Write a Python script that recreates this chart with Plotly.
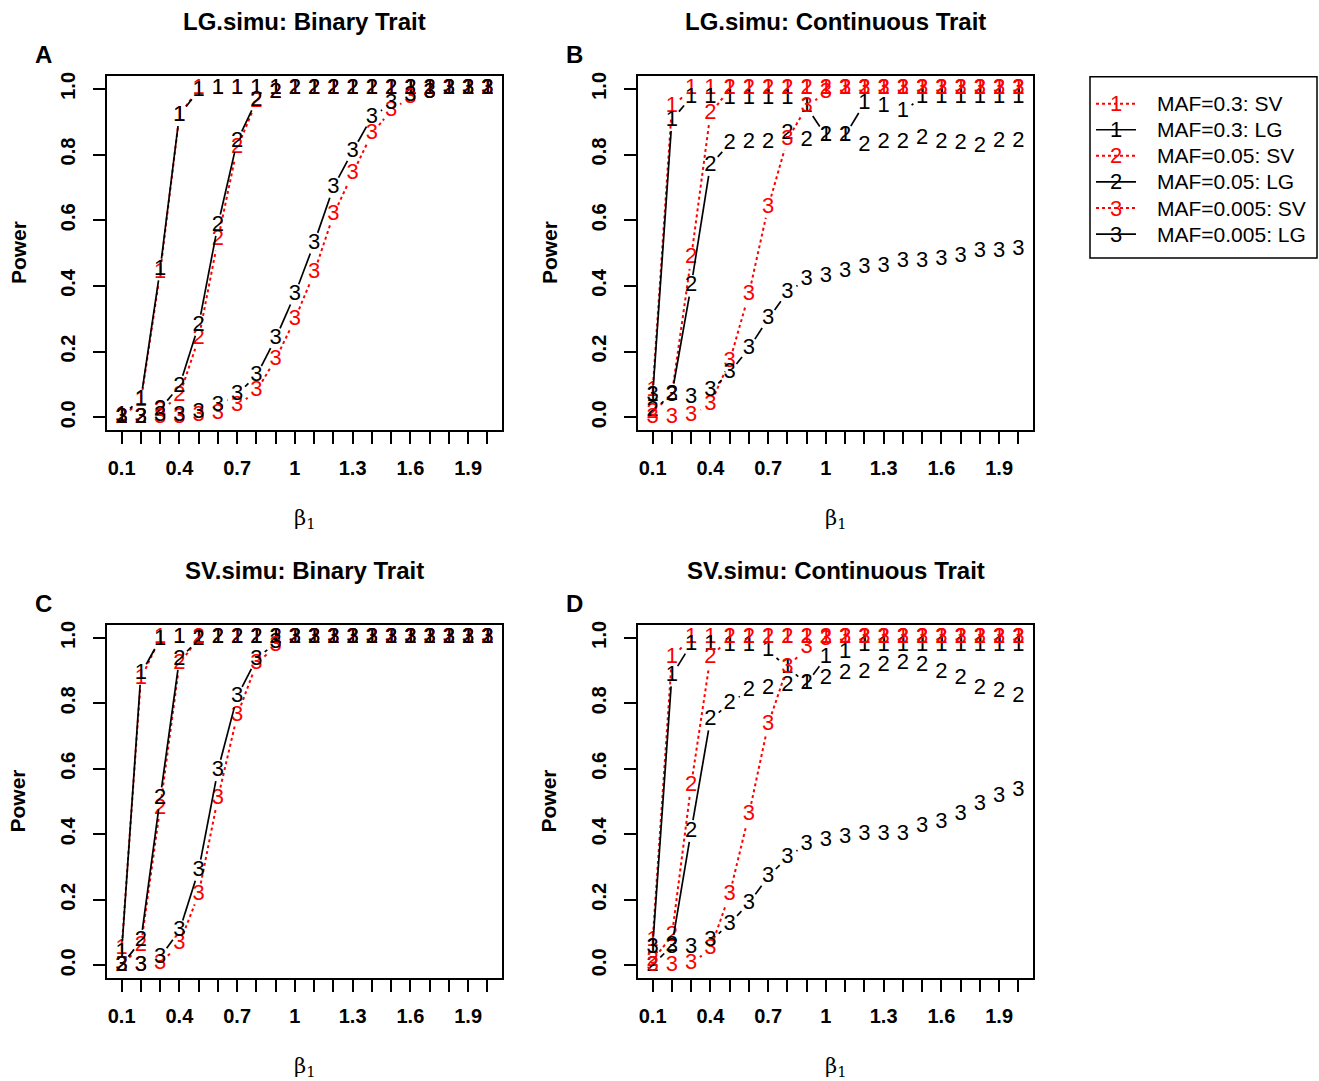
import math
import plotly.graph_objects as go

# ---------------- data ----------------
beta = [0.1, 0.2, 0.3, 0.4, 0.5, 0.6, 0.7, 0.8, 0.9, 1.0,
        1.1, 1.2, 1.3, 1.4, 1.5, 1.6, 1.7, 1.8, 1.9, 2.0]

# Panel A: LG.simu, binary trait
A_SV1 = [0.0, 0.05, 0.44, 0.92, 1.0, 1, 1, 1, 1, 1, 1, 1, 1, 1, 1, 1, 1, 1, 1, 1]
A_LG1 = [0.005, 0.055, 0.45, 0.92, 0.995, 1, 1, 1, 1, 1, 1, 1, 1, 1, 1, 1, 1, 1, 1, 1]
A_SV2 = [0.0, 0.0, 0.02, 0.065, 0.24, 0.54, 0.82, 0.96, 0.99, 1, 1, 1, 1, 1, 1, 1, 1, 1, 1, 1]
A_LG2 = [0.0, 0.0, 0.025, 0.095, 0.28, 0.585, 0.84, 0.965, 0.99, 1, 1, 1, 1, 1, 1, 1, 1, 1, 1, 1]
A_SV3 = [0.0, 0.0, 0.0, 0.0, 0.005, 0.01, 0.035, 0.08, 0.177, 0.298, 0.44, 0.616, 0.742, 0.864,
         0.934, 0.975, 0.99, 1, 1, 1]
A_LG3 = [0.0, 0.0, 0.005, 0.005, 0.015, 0.035, 0.07, 0.126, 0.24, 0.374, 0.53, 0.70, 0.81, 0.914,
         0.955, 0.98, 0.99, 1, 1, 1]

# Panel B: LG.simu, continuous trait
B_SV1 = [0.08, 0.945, 1, 1, 1, 1, 1, 1, 1, 1, 1, 1, 1, 1, 1, 1, 1, 1, 1, 1]
B_LG1 = [0.065, 0.905, 0.975, 0.975, 0.97, 0.97, 0.97, 0.97, 0.945, 0.858, 0.858, 0.955, 0.945,
         0.93, 0.975, 0.975, 0.975, 0.975, 0.975, 0.975]
B_SV2 = [0.015, 0.07, 0.485, 0.924, 1, 1, 1, 1, 1, 1, 1, 1, 1, 1, 1, 1, 1, 1, 1, 1]
B_LG2 = [0.02, 0.07, 0.40, 0.768, 0.833, 0.838, 0.838, 0.863, 0.843, 0.858, 0.858, 0.828, 0.838,
         0.838, 0.848, 0.838, 0.833, 0.825, 0.841, 0.841]
B_SV3 = [0.0, 0.0, 0.005, 0.04, 0.17, 0.375, 0.64, 0.845, 0.945, 0.99, 1, 1, 1, 1, 1, 1, 1, 1, 1, 1]
B_LG3 = [0.065, 0.065, 0.06, 0.08, 0.136, 0.21, 0.30, 0.38, 0.42, 0.43, 0.445, 0.455, 0.46, 0.475,
         0.475, 0.48, 0.49, 0.505, 0.505, 0.51]

# Panel C: SV.simu, binary trait
C_SV1 = [0.05, 0.875, 1, 1, 1, 1, 1, 1, 1, 1, 1, 1, 1, 1, 1, 1, 1, 1, 1, 1]
C_LG1 = [0.04, 0.89, 0.995, 1, 1, 1, 1, 1, 1, 1, 1, 1, 1, 1, 1, 1, 1, 1, 1, 1]
C_SV2 = [0.0, 0.06, 0.48, 0.92, 1, 1, 1, 1, 1, 1, 1, 1, 1, 1, 1, 1, 1, 1, 1, 1]
C_LG2 = [0.0, 0.075, 0.51, 0.935, 0.995, 1, 1, 1, 1, 1, 1, 1, 1, 1, 1, 1, 1, 1, 1, 1]
C_SV3 = [0.0, 0.0, 0.005, 0.065, 0.217, 0.51, 0.762, 0.92, 0.975, 1, 1, 1, 1, 1, 1, 1, 1, 1, 1, 1]
C_LG3 = [0.0, 0.0, 0.025, 0.105, 0.29, 0.595, 0.82, 0.935, 0.985, 1, 1, 1, 1, 1, 1, 1, 1, 1, 1, 1]

# Panel D: SV.simu, continuous trait
D_SV1 = [0.075, 0.94, 1, 1, 1, 1, 1, 1, 1, 1, 1, 1, 1, 1, 1, 1, 1, 1, 1, 1]
D_LG1 = [0.055, 0.885, 0.98, 0.98, 0.975, 0.975, 0.96, 0.91, 0.86, 0.94, 0.955, 0.975, 0.975,
         0.975, 0.975, 0.975, 0.975, 0.975, 0.975, 0.975]
D_SV2 = [0.015, 0.09, 0.55, 0.94, 1, 1, 1, 1, 1, 1, 1, 1, 1, 1, 1, 1, 1, 1, 1, 1]
D_LG2 = [0.0, 0.06, 0.41, 0.75, 0.80, 0.84, 0.845, 0.855, 0.86, 0.875, 0.89, 0.895, 0.915, 0.92,
         0.915, 0.895, 0.875, 0.845, 0.835, 0.82]
D_SV3 = [0.0, 0.0, 0.005, 0.05, 0.217, 0.46, 0.735, 0.91, 0.97, 0.995, 1, 1, 1, 1, 1, 1, 1, 1, 1, 1]
D_LG3 = [0.055, 0.055, 0.055, 0.075, 0.126, 0.19, 0.27, 0.33, 0.37, 0.38, 0.39, 0.40, 0.40, 0.40,
         0.425, 0.435, 0.46, 0.49, 0.515, 0.535]

panel_titles = ["LG.simu: Binary Trait", "LG.simu: Continuous Trait",
                "SV.simu: Binary Trait", "SV.simu: Continuous Trait"]
panel_letters = ["A", "B", "C", "D"]
series_names = ["MAF=0.3: SV", "MAF=0.3: LG", "MAF=0.05: SV",
                "MAF=0.05: LG", "MAF=0.005: SV", "MAF=0.005: LG"]
series_symbols = ["1", "1", "2", "2", "3", "3"]
x_label_vals = [0.1, 0.4, 0.7, 1.0, 1.3, 1.6, 1.9]
x_label_text = ["0.1", "0.4", "0.7", "1", "1.3", "1.6", "1.9"]
y_tick_vals = [0.0, 0.2, 0.4, 0.6, 0.8, 1.0]
y_tick_text = ["0.0", "0.2", "0.4", "0.6", "0.8", "1.0"]

panels = [
    [A_SV1, A_LG1, A_SV2, A_LG2, A_SV3, A_LG3],
    [B_SV1, B_LG1, B_SV2, B_LG2, B_SV3, B_LG3],
    [C_SV1, C_LG1, C_SV2, C_LG2, C_SV3, C_LG3],
    [D_SV1, D_LG1, D_SV2, D_LG2, D_SV3, D_LG3],
]

# ---------------- layout geometry ----------------
W, H = 1319, 1081
FONT = "Liberation Sans, Arial, sans-serif"
RED, BLACK = "#ff0000", "#000000"
series_colors = [RED, BLACK, RED, BLACK, RED, BLACK]
series_dash = ["dot", "solid", "dot", "solid", "dot", "solid"]
series_width = [2, 1.7, 2, 1.7, 2, 1.7]
SYM_SIZE = 22

boxes = [  # left, right, top, bottom in pixels
    (107, 502, 72, 428), (638, 1033, 72, 428),
    (107, 502, 623, 978), (638, 1033, 623, 978),
]
XR = [0.024, 2.076]
YR = [-0.04, 1.04]


def px(x):
    return x / W


def py(y):
    return 1 - y / H


def gapped(xs, ys, sx, sy, g=11.0):
    """Segments between points with a gap around each point (R type='b')."""
    X, Y = [], []
    for i in range(len(xs) - 1):
        dx = (xs[i + 1] - xs[i]) * sx
        dy = (ys[i + 1] - ys[i]) * sy
        d = math.hypot(dx, dy)
        if d > 2 * g:
            f = g / d
            X += [xs[i] + f * (xs[i + 1] - xs[i]), xs[i + 1] - f * (xs[i + 1] - xs[i]), None]
            Y += [ys[i] + f * (ys[i + 1] - ys[i]), ys[i + 1] - f * (ys[i + 1] - ys[i]), None]
    return X, Y


fig = go.Figure()
annotations = []
shapes = []

for p, (l, r, t, b) in enumerate(boxes):
    xa = "xaxis" if p == 0 else f"xaxis{p + 1}"
    ya = "yaxis" if p == 0 else f"yaxis{p + 1}"
    xref = "x" if p == 0 else f"x{p + 1}"
    yref = "y" if p == 0 else f"y{p + 1}"
    sx = (r - l) / (XR[1] - XR[0])
    sy = (b - t) / (YR[1] - YR[0])
    for k, ys in enumerate(panels[p]):
        lx, ly = gapped(beta, ys, sx, sy)
        fig.add_trace(go.Scatter(
            x=lx, y=ly, mode="lines", xaxis=xref, yaxis=yref,
            line=dict(color=series_colors[k], width=series_width[k], dash=series_dash[k]),
            showlegend=False, hoverinfo="skip"))
        fig.add_trace(go.Scatter(
            x=beta, y=ys, mode="text", xaxis=xref, yaxis=yref,
            text=[series_symbols[k]] * len(beta), textposition="middle center",
            textfont=dict(family=FONT, size=SYM_SIZE, color=series_colors[k]),
            name=series_names[k], showlegend=False))

    axis_common = dict(showline=True, linecolor="black", linewidth=1.5, mirror=True,
                       showgrid=False, zeroline=False, ticks="outside", ticklen=12,
                       tickwidth=1.5, tickcolor="black",
                       tickfont=dict(family=FONT, size=20, color="black", weight="bold"))
    fig.update_layout({
        xa: dict(domain=[px(l), px(r)], range=XR, tickmode="array",
                 tickvals=x_label_vals, ticktext=x_label_text, anchor=yref,
                 ticklabelstandoff=7,
                 minor=dict(tickmode="array", tickvals=beta, ticks="outside", ticklen=12,
                            tickwidth=1.5, tickcolor="black", showgrid=False),
                 **axis_common),
        ya: dict(domain=[py(b), py(t)], range=YR, tickmode="array",
                 tickvals=y_tick_vals, ticktext=y_tick_text, anchor=xref,
                 tickangle=-90, ticklabelstandoff=10, **axis_common),
    })
    cx = (l + r) / 2
    cy = (t + b) / 2
    annotations.append(dict(x=px(cx), y=py(t - 54), xref="paper", yref="paper",
                            text=f"<b>{panel_titles[p]}</b>", showarrow=False,
                            font=dict(family=FONT, size=24, color="black"),
                            xanchor="center", yanchor="middle"))
    annotations.append(dict(x=px(l - 64), y=py(t - 21), xref="paper", yref="paper",
                            text=f"<b>{panel_letters[p]}</b>", showarrow=False,
                            font=dict(family=FONT, size=24, color="black"),
                            xanchor="center", yanchor="middle"))
    annotations.append(dict(x=px(l - 89), y=py(cy), xref="paper", yref="paper",
                            text="<b>Power</b>", showarrow=False, textangle=-90,
                            font=dict(family=FONT, size=21, color="black"),
                            xanchor="center", yanchor="middle"))
    annotations.append(dict(x=px(cx), y=py(b + 89), xref="paper", yref="paper",
                            text="β<sub>1</sub>", showarrow=False,
                            font=dict(family="DejaVu Serif, serif", size=21, color="black"),
                            xanchor="center", yanchor="middle"))

# ---------------- legend (drawn by hand, like R's legend()) ----------------
leg_l, leg_r, leg_t, leg_b = 1090, 1317, 73, 255
shapes.append(dict(type="rect", xref="paper", yref="paper",
                   x0=px(leg_l), x1=px(leg_r), y0=py(leg_b), y1=py(leg_t),
                   line=dict(color="black", width=1.5), fillcolor="rgba(0,0,0,0)"))
for k, name in enumerate(series_names):
    yy = 100 + k * 26.2
    shapes.append(dict(type="line", xref="paper", yref="paper",
                       x0=px(1096), x1=px(1136), y0=py(yy), y1=py(yy),
                       line=dict(color=series_colors[k], width=series_width[k],
                                 dash=series_dash[k])))
    annotations.append(dict(x=px(1116), y=py(yy), xref="paper", yref="paper",
                            text=series_symbols[k], showarrow=False,
                            font=dict(family=FONT, size=SYM_SIZE, color=series_colors[k]),
                            xanchor="center", yanchor="middle"))
    annotations.append(dict(x=px(1155), y=py(yy), xref="paper", yref="paper",
                            text=name, showarrow=False,
                            font=dict(family=FONT, size=21, color="black"),
                            xanchor="left", yanchor="middle"))

fig.update_layout(
    width=W, height=H, autosize=False,
    margin=dict(l=0, r=0, t=0, b=0, pad=0),
    paper_bgcolor="white", plot_bgcolor="white",
    showlegend=False, annotations=annotations, shapes=shapes,
)

fig.write_html("out.html", config={"displayModeBar": False},
               post_script="document.body.style.margin='0';document.body.style.overflow='hidden';")
